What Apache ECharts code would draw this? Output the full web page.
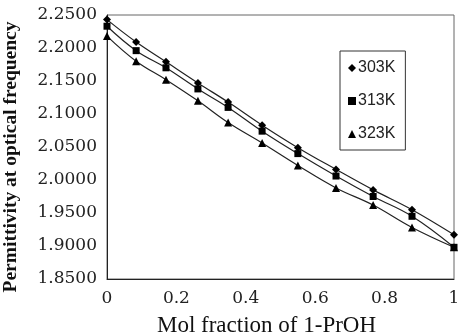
<!DOCTYPE html>
<html><head><meta charset="utf-8">
<script src="https://cdn.jsdelivr.net/npm/echarts@6/dist/echarts.min.js"></script>
<style>html,body{margin:0;padding:0;background:#fff}#c{width:460px;height:336px}</style>
</head><body><div id="c"></div>
<script>
const molFraction = [0, 0.084, 0.17, 0.262, 0.349, 0.447, 0.55, 0.66, 0.767, 0.879, 1.0];
const eps303 = [2.243, 2.209, 2.179, 2.147, 2.118, 2.083, 2.049, 2.016, 1.985, 1.955, 1.917];
const eps313 = [2.233, 2.196, 2.170, 2.138, 2.110, 2.074, 2.040, 2.006, 1.975, 1.945, 1.898];
const eps323 = [2.218, 2.180, 2.152, 2.120, 2.087, 2.056, 2.022, 1.988, 1.962, 1.928, 1.898];
const seriesNames = ['303K', '313K', '323K'];
const xTicks = [0, 0.2, 0.4, 0.6, 0.8, 1];

const pairs = a => molFraction.map((x, i) => [x, a[i]]);
const chart = echarts.init(document.getElementById('c'), null, {renderer: 'canvas'});
const serif = '"Liberation Serif","DejaVu Serif",serif';
const wideSerif = '"DejaVu Serif","Liberation Serif",serif';
const mk = (name, data, symbol, size) => ({
  name, type: 'line', data: pairs(data), smooth: 0.4,
  symbol, symbolSize: size, showSymbol: true,
  lineStyle: {color: '#222', width: 1.2},
  itemStyle: {color: '#000'}, z: 3
});
chart.setOption({
  animation: false,
  backgroundColor: '#fff',
  grid: {left: 107, right: 6, top: 15, bottom: 57, containLabel: false, outerBoundsMode: 'none',
    show: true, borderColor: '#666', borderWidth: 1},
  legend: {
    orient: 'vertical', left: 340, top: 51, itemWidth: 8, itemHeight: 8, itemGap: 17,
    padding: [9, 10, 8, 8],
    borderColor: '#333', borderWidth: 1,
    textStyle: {fontFamily: '"Liberation Sans",Arial,sans-serif', fontSize: 16, color: '#222', padding: [0, 0, 0, -3]},
    data: seriesNames.map((n, i) => ({name: n, icon: ['diamond', 'rect', 'triangle'][i]}))
  },
  xAxis: {
    type: 'value', min: 0, max: 1, interval: 0.2,
    name: 'Mol fraction of 1-PrOH', nameLocation: 'middle', nameGap: 35,
    nameTextStyle: {fontFamily: serif, fontSize: 23, color: '#111', padding: [0, 28, 0, 0]},
    axisLine: {show: true, lineStyle: {color: '#222', width: 1}},
    axisTick: {show: false},
    splitLine: {show: false},
    axisLabel: {fontFamily: wideSerif, fontSize: 17, color: '#222', margin: 11,
      formatter: v => xTicks.includes(+v.toFixed(1)) ? String(+v.toFixed(1)) : ''}
  },
  yAxis: {
    type: 'value', min: 1.85, max: 2.25, interval: 0.05,
    name: 'Permittivity at optical frequency', nameLocation: 'middle', nameGap: 86,
    nameTextStyle: {fontFamily: serif, fontSize: 19.5, fontWeight: 'bold', color: '#111', padding: [0, 0, 0, -20]},
    axisLine: {show: true, lineStyle: {color: '#222', width: 1}},
    axisTick: {show: false},
    splitLine: {show: false},
    axisLabel: {fontFamily: wideSerif, fontSize: 17, color: '#222', margin: 10,
      formatter: v => v.toFixed(4)}
  },
  series: [
    mk(seriesNames[0], eps303, 'diamond', 8),
    mk(seriesNames[1], eps313, 'rect', 7),
    mk(seriesNames[2], eps323, 'triangle', 8)
  ]
});
</script></body></html>
